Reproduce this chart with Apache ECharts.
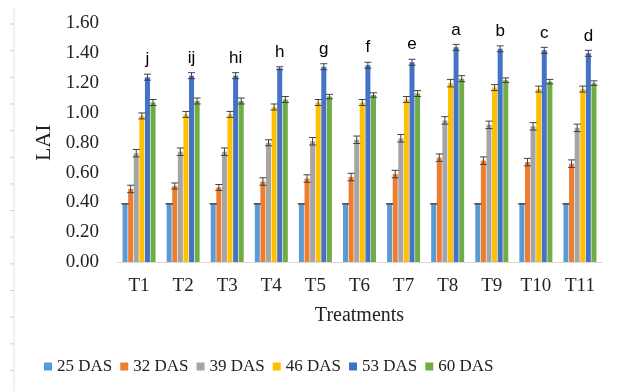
<!DOCTYPE html>
<html><head><meta charset="utf-8">
<script src="https://cdn.jsdelivr.net/npm/echarts@6/dist/echarts.min.js"></script>
<style>html,body{margin:0;padding:0;background:#fff}#c{width:620px;height:391px}</style>
</head><body><div id="c"></div>
<script>
const categories = ['T1','T2','T3','T4','T5','T6','T7','T8','T9','T10','T11'];
const seriesNames = ['25 DAS','32 DAS','39 DAS','46 DAS','53 DAS','60 DAS'];
const das25 = [0.39,0.39,0.39,0.39,0.39,0.39,0.39,0.39,0.39,0.39,0.39];
const das32 = [0.49,0.51,0.50,0.54,0.56,0.57,0.59,0.70,0.68,0.67,0.66];
const das39 = [0.73,0.74,0.74,0.80,0.81,0.82,0.83,0.95,0.92,0.91,0.90];
const das46 = [0.98,0.99,0.99,1.04,1.07,1.07,1.09,1.20,1.17,1.16,1.16];
const das53 = [1.24,1.25,1.25,1.30,1.31,1.32,1.34,1.44,1.43,1.42,1.40];
const das60 = [1.07,1.08,1.08,1.09,1.11,1.12,1.13,1.23,1.22,1.21,1.20];
const err25 = [0,0,0,0,0,0,0,0,0,0,0];
const err32 = [0.025,0.02,0.02,0.025,0.025,0.025,0.025,0.025,0.025,0.025,0.025];
const err39 = [0.025,0.025,0.025,0.02,0.025,0.025,0.025,0.025,0.025,0.025,0.025];
const err46 = [0.02,0.02,0.02,0.02,0.02,0.02,0.02,0.025,0.02,0.02,0.02];
const err53 = [0.02,0.02,0.02,0.01,0.02,0.02,0.02,0.02,0.02,0.02,0.02];
const err60 = [0.02,0.02,0.02,0.02,0.015,0.015,0.02,0.02,0.015,0.015,0.015];
const letters = ['j','ij','hi','h','g','f','e','a','b','c','d'];

const values = [das25,das32,das39,das46,das53,das60];
const errors = [err25,err32,err39,err46,err53,err60];
const colors = ['#5B9BD5','#ED7D31','#A5A5A5','#FFC000','#4472C4','#70AD47'];
const serif = 'Liberation Serif';
const BW = 5, GAP = 0.12, STEP = BW*(1+GAP);
const offsetOf = i => (i - 2.5) * STEP;

const series = [];
values.forEach((vals, i) => {
  series.push({
    name: seriesNames[i], type: 'bar', data: vals, barWidth: BW, barGap: (GAP*100)+'%',
    itemStyle: {color: colors[i]}
  });
});
values.forEach((vals, i) => {
  series.push({
    type: 'custom', silent: true, z: 5,
    data: vals.map((v, k) => [k, v, errors[i][k]]),
    renderItem: (params, api) => {
      const k = api.value(0), v = api.value(1), e = api.value(2);
      const top = api.coord([k, v + e]);
      const bot = api.coord([k, v - e]);
      const x = top[0] + offsetOf(i);
      const cap = 3.5;
      const st = {stroke: '#404040', lineWidth: 1};
      return {type: 'group', children: [
        {type: 'line', shape: {x1: x, y1: top[1], x2: x, y2: bot[1]}, style: st},
        {type: 'line', shape: {x1: x-cap, y1: top[1], x2: x+cap, y2: top[1]}, style: st},
        {type: 'line', shape: {x1: x-cap, y1: bot[1], x2: x+cap, y2: bot[1]}, style: st}
      ]};
    }
  });
});
series.push({
  type: 'custom', silent: true, z: 6,
  data: das53.map((v, k) => [k, v, err53[k]]),
  renderItem: (params, api) => {
    const k = api.value(0);
    const p = api.coord([k, api.value(1) + api.value(2)]);
    return {type: 'text', style: {
      text: letters[k], x: p[0] + offsetOf(4), y: p[1] - 6,
      textAlign: 'center', textVerticalAlign: 'bottom',
      font: '17px "Liberation Sans", Arial, sans-serif', fill: '#000'
    }};
  }
});

const chart = echarts.init(document.getElementById('c'), null, {renderer: 'canvas'});
const rulerTicks = [];
for (let y = 24; y < 391; y += 26.65) {
  rulerTicks.push({type: 'line', shape: {x1: 10, y1: y, x2: 14, y2: y}, style: {stroke: '#d0d0d0', lineWidth: 1}});
}
chart.setOption({
  animation: false,
  color: colors,
  graphic: [
    {type: 'line', shape: {x1: 14, y1: 8, x2: 14, y2: 391}, style: {stroke: '#e0e0e0', lineWidth: 1}},
    ...rulerTicks
  ],
  grid: {left: 117, right: 18, top: 23.5, bottom: 129},
  legend: {
    data: seriesNames, bottom: 16, left: 44, itemWidth: 8, itemHeight: 8, itemGap: 8,
    icon: 'rect', textStyle: {fontFamily: serif, fontSize: 17, color: '#222'},
    padding: [0,0,0,0]
  },
  xAxis: {
    type: 'category', data: categories,
    name: 'Treatments', nameLocation: 'middle', nameGap: 44,
    nameTextStyle: {fontFamily: serif, fontSize: 20, color: '#222'},
    axisLine: {lineStyle: {color: '#d9d9d9', width: 1}},
    axisTick: {show: false},
    axisLabel: {fontFamily: serif, fontSize: 19, color: '#222', margin: 15}
  },
  yAxis: {
    type: 'value', min: 0, max: 1.6, interval: 0.2,
    name: 'LAI', nameLocation: 'middle', nameGap: 58, nameRotate: 90,
    nameTextStyle: {fontFamily: serif, fontSize: 22, color: '#222'},
    axisLine: {show: false}, axisTick: {show: false}, splitLine: {show: false},
    axisLabel: {fontFamily: serif, fontSize: 19, color: '#222', margin: 18,
      formatter: v => v.toFixed(2)}
  },
  series: series
});
</script></body></html>
